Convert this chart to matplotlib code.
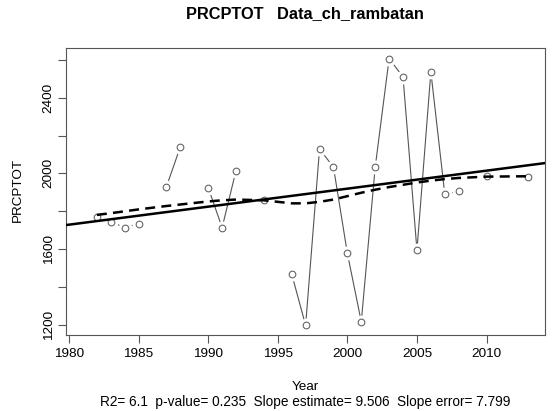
import numpy as np
import matplotlib
matplotlib.use('Agg')
import matplotlib.pyplot as plt

plt.rcParams['font.family'] = ['Liberation Sans', 'DejaVu Sans']

# annual total precipitation, missing years as nan
years = np.arange(1982, 2014)
prcptot = [1772, 1745, 1714, 1735, np.nan, 1930, 2141, np.nan, 1925, 1714,
           2015, np.nan, 1858, np.nan, 1469, 1198, 2128, 2034, 1578, 1217,
           2033, 2606, 2509, 1594, 2536, 1890, 1906, np.nan, 1988, np.nan,
           np.nan, 1983]
# lowess smooth (dashed)
smooth = [1781, 1790, 1800, 1810, np.nan, 1828, 1836, np.nan, 1852, 1858,
          1862, np.nan, 1858, np.nan, 1842, 1842, 1850, 1862, 1880, 1898,
          1914, 1928, 1940, 1952, 1962, 1970, 1976, np.nan, 1983, np.nan,
          np.nan, 1985]
slope = 9.506
trend_at_1997 = 1891
stats = 'R2= 6.1  p-value= 0.235  Slope estimate= 9.506  Slope error= 7.799'

prcptot = np.array(prcptot, dtype=float)
smooth = np.array(smooth, dtype=float)
ok = ~np.isnan(prcptot)

fig = plt.figure(figsize=(5.52, 4.11), dpi=100)
ax = fig.add_axes([0.119, 0.1849, 0.8683, 0.6983])

# type="b" style: line, then white gaps round the points, then hollow circles
ax.plot(years, prcptot, color='#555555', lw=0.8, zorder=1)
ax.plot(years[ok], prcptot[ok], 'o', ms=10, mfc='white', mec='white', mew=0, zorder=2)
ax.plot(years[ok], prcptot[ok], 'o', ms=4.8, mfc='none', mec='#666666', mew=0.8, zorder=3)

xs = np.array([1979, 2016])
ax.plot(xs, trend_at_1997 + slope * (xs - 1997), color='black', lw=1.8, zorder=4)
ax.plot(years[ok], smooth[ok], color='black', lw=1.8, ls=(0, (4, 2.5)), zorder=4)

ax.set_xlim(1979.76, 2014.2)
ax.set_ylim(1147, 2662)
ax.set_xticks(np.arange(1980, 2011, 5))
yt = np.arange(1200, 2601, 200)
ax.set_yticks(yt)
ax.set_yticklabels([str(v) if v % 400 == 0 else '' for v in yt],
                   rotation=90, va='center')
ax.tick_params(length=6, width=0.8, color='#555555', labelsize=9.7, pad=2)
ax.tick_params(axis='x', pad=3)
for s in ax.spines.values():
    s.set_color('#555555')
    s.set_linewidth(0.8)

fig.text(0.5525, 0.966, 'PRCPTOT   Data_ch_rambatan', ha='center', va='center',
         fontsize=11.8, fontweight='bold')
fig.text(0.5525, 1 - 386.7 / 411, 'Year', ha='center', va='center', fontsize=9.7)
fig.text(0.5525, 1 - 401.7 / 411, stats, ha='center', va='center', fontsize=9.8)
fig.text(18 / 552, 1 - 190 / 411, 'PRCPTOT', ha='center', va='center',
         rotation=90, fontsize=9.7)

fig.savefig('out.png', dpi=100)
